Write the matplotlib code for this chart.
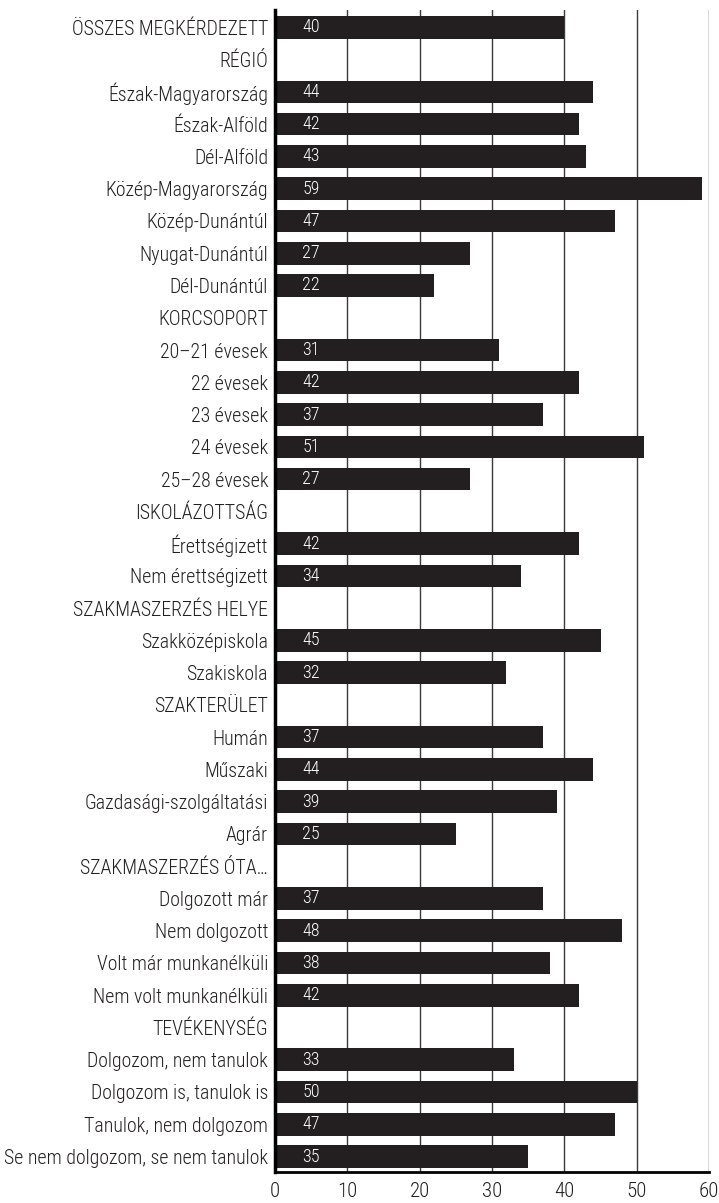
import matplotlib.pyplot as plt
from matplotlib import font_manager

# categories (top to bottom); None = section header row without a bar
labels = [
    "ÖSSZES MEGKÉRDEZETT", "RÉGIÓ", "Észak-Magyarország", "Észak-Alföld", "Dél-Alföld",
    "Közép-Magyarország", "Közép-Dunántúl", "Nyugat-Dunántúl", "Dél-Dunántúl",
    "KORCSOPORT", "20–21 évesek", "22 évesek", "23 évesek", "24 évesek", "25–28 évesek",
    "ISKOLÁZOTTSÁG", "Érettségizett", "Nem érettségizett",
    "SZAKMASZERZÉS HELYE", "Szakközépiskola", "Szakiskola",
    "SZAKTERÜLET", "Humán", "Műszaki", "Gazdasági-szolgáltatási", "Agrár",
    "SZAKMASZERZÉS ÓTA…", "Dolgozott már", "Nem dolgozott", "Volt már munkanélküli",
    "Nem volt munkanélküli",
    "TEVÉKENYSÉG", "Dolgozom, nem tanulok", "Dolgozom is, tanulok is",
    "Tanulok, nem dolgozom", "Se nem dolgozom, se nem tanulok",
]
values = [
    40, None, 44, 42, 43, 59, 47, 27, 22,
    None, 31, 42, 37, 51, 27,
    None, 42, 34,
    None, 45, 32,
    None, 37, 44, 39, 25,
    None, 37, 48, 38, 42,
    None, 33, 50, 47, 35,
]
xticks = [0, 10, 20, 30, 40, 50, 60]

names = {f.name for f in font_manager.fontManager.ttflist}
weight = "normal"
fam = "DejaVu Sans"
for cand, w in [("Roboto Condensed", "light"), ("Liberation Sans Narrow", "normal"),
                ("Archivo Narrow", "normal"), ("Barlow Condensed", "light")]:
    if cand in names:
        fam, weight = cand, w
        break
plt.rcParams['font.family'] = [fam, 'DejaVu Sans']
plt.rcParams['font.weight'] = weight

bar_color = "#231f20"
text_color = "#231f20"

fig = plt.figure(figsize=(7.19, 12.03), dpi=100)
ax = fig.add_axes([275 / 719, 1 - 1172 / 1203, 434 / 719, 1162 / 1203])

n = len(labels)
for i, v in enumerate(values):
    if v is None:
        continue
    ax.barh(i, v, height=0.7, color=bar_color, zorder=3)
    ax.text(5, i, str(v), color="white", ha="center", va="center",
            fontsize=13, zorder=4)

for x in xticks[1:]:
    ax.axvline(x, color="#3a3a3a", lw=1, zorder=1)

ax.set_xlim(0, 60)
ax.set_ylim(n - 0.52, -0.54)
ax.set_yticks(range(n))
ax.set_yticklabels(labels, fontsize=14.3, color=text_color)
ax.set_xticks(xticks)
ax.set_xticklabels([str(t) for t in xticks], fontsize=15, color=text_color)
ax.tick_params(axis="both", length=0)
ax.tick_params(axis="y", pad=5)
ax.tick_params(axis="x", pad=7.5)

for s in ["top", "right"]:
    ax.spines[s].set_visible(False)
ax.spines["left"].set_linewidth(2.5)
ax.spines["bottom"].set_linewidth(2)
ax.spines["left"].set_zorder(5)

fig.savefig("out.png", dpi=100)
